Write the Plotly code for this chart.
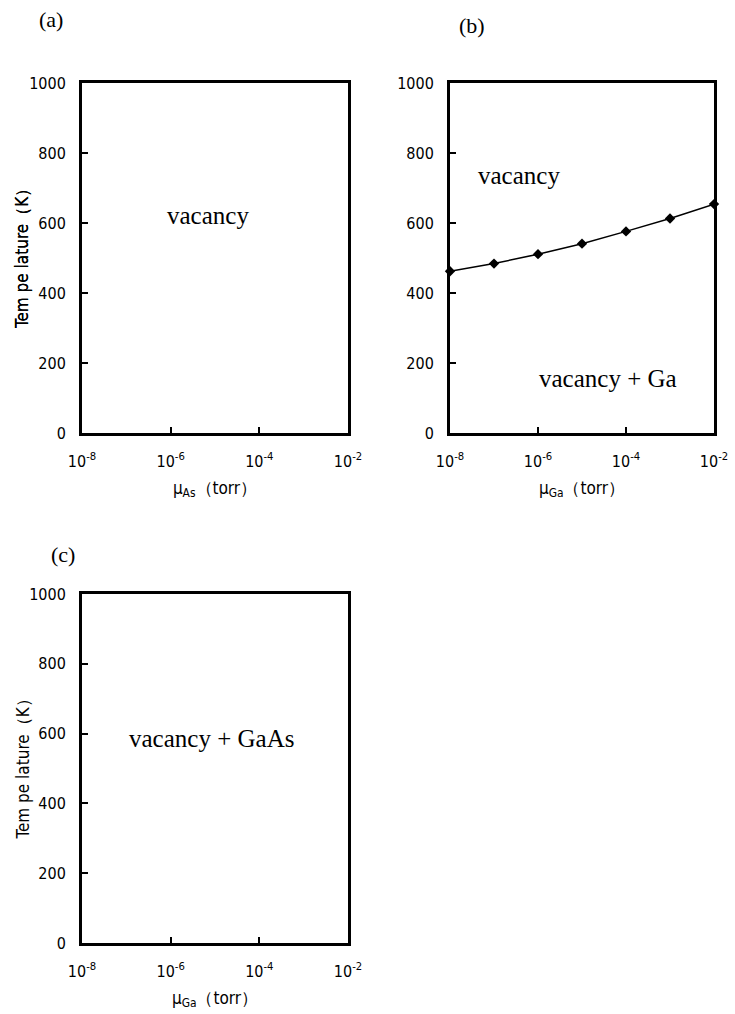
import plotly.graph_objects as go

# Data
mu_ga_b = [1e-8, 1e-7, 1e-6, 1e-5, 1e-4, 1e-3, 1e-2]
temp_b = [462, 484, 511, 541, 576, 613, 654]
x_tickvals = [1e-8, 1e-6, 1e-4, 1e-2]
x_ticktext = ["10<sup>-8</sup>", "10<sup>-6</sup>", "10<sup>-4</sup>", "10<sup>-2</sup>"]
y_tickvals = [0, 200, 400, 600, 800, 1000]
x_titles = ["μ<sub>As</sub>（torr）", "μ<sub>Ga</sub>（torr）", "μ<sub>Ga</sub>（torr）"]
y_title = "Tem pe lature（K）"
panel_labels = ["(a)", "(b)", "(c)"]

W, H = 735, 1014
NARROW = "DejaVu Sans Condensed, Liberation Sans Narrow, Arial Narrow, sans-serif"
SERIF = "Liberation Serif, Times New Roman, serif"

def px(x):
    return x / W

def py(y):
    return 1 - y / H

domains = [
    ((82, 348), (83, 433)),
    ((450, 714), (83, 433)),
    ((82, 348), (594, 943)),
]

fig = go.Figure()

fig.add_trace(go.Scatter(
    x=mu_ga_b, y=temp_b, mode="lines+markers",
    line=dict(color="black", width=1.5),
    marker=dict(symbol="diamond", size=8, color="black"),
    xaxis="x2", yaxis="y2", showlegend=False, cliponaxis=False,
))
# invisible traces to activate axes a and c
fig.add_trace(go.Scatter(x=[1e-8], y=[-10], mode="markers", marker=dict(opacity=0),
                         xaxis="x", yaxis="y", showlegend=False, hoverinfo="skip"))
fig.add_trace(go.Scatter(x=[1e-8], y=[-10], mode="markers", marker=dict(opacity=0),
                         xaxis="x3", yaxis="y3", showlegend=False, hoverinfo="skip"))

layout = dict(
    width=W, height=H,
    margin=dict(l=0, r=0, t=0, b=0, autoexpand=False),
    paper_bgcolor="white", plot_bgcolor="white",
    showlegend=False,
)

for i, ((x0, x1), (y0, y1)) in enumerate(domains):
    sfx = "" if i == 0 else str(i + 1)
    layout["xaxis" + sfx] = dict(
        type="log", range=[-8, -1.99999], domain=[px(x0), px(x1)],
        anchor="y" + sfx, automargin=False,
        tickvals=x_tickvals, ticktext=x_ticktext,
        ticks="inside", ticklen=6, tickwidth=2, tickcolor="black",
        showline=True, linewidth=3, linecolor="black", mirror=True,
        showgrid=False, zeroline=False, layer="below traces",
        tickfont=dict(family=NARROW, size=16, color="black"),
        ticklabelstandoff=12,
        title=dict(text=x_titles[i], font=dict(family=NARROW, size=17, color="black"), standoff=12),
    )
    layout["yaxis" + sfx] = dict(
        range=[0, 1000], domain=[py(y1), py(y0)],
        anchor="x" + sfx, automargin=False,
        tickvals=y_tickvals,
        ticks="inside", ticklen=6, tickwidth=2, tickcolor="black",
        showline=True, linewidth=3, linecolor="black", mirror=True,
        showgrid=False, zeroline=False, layer="below traces",
        tickfont=dict(family=NARROW, size=16, color="black"),
        ticklabelstandoff=10,
    )

fig.update_layout(**layout)

# y-axis titles placed as rotated text left of each panel
for (x0, x1), (y0, y1) in domains:
    fig.add_annotation(text=y_title, x=px(22), y=py((y0 + y1) / 2 - 3),
                       xref="paper", yref="paper", xanchor="center", yanchor="middle",
                       textangle=-90, showarrow=False,
                       font=dict(family=NARROW, size=17, color="black"))

annos = [
    dict(text="vacancy", x=-5.16, y=620, xref="x", yref="y"),
    dict(text="vacancy", x=-6.43, y=737, xref="x2", yref="y2"),
    dict(text="vacancy + Ga", x=-4.41, y=157, xref="x2", yref="y2"),
    dict(text="vacancy + GaAs", x=-5.07, y=587, xref="x3", yref="y3"),
]
for a in annos:
    fig.add_annotation(**a, showarrow=False, font=dict(family=SERIF, size=25, color="black"))

for lab, (x, y) in zip(panel_labels, [(51, 20), (472, 25), (63, 554)]):
    fig.add_annotation(text=lab, x=px(x), y=py(y), xref="paper", yref="paper",
                       xanchor="center", yanchor="middle",
                       showarrow=False, font=dict(family=SERIF, size=22, color="black"))

fig.write_html("out.html", config={"displayModeBar": False},
               post_script="document.body.style.margin='0';")
